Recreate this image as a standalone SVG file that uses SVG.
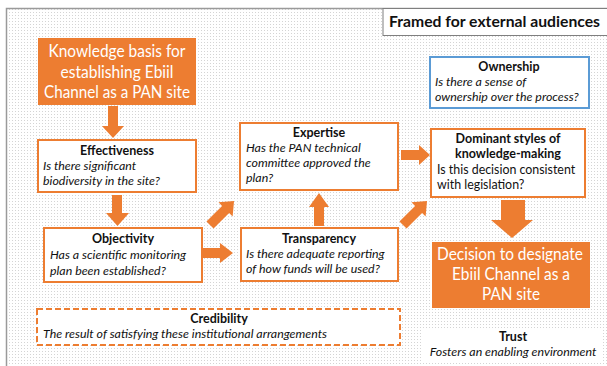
<svg xmlns="http://www.w3.org/2000/svg" width="607" height="366" viewBox="0 0 607 366">
  <defs>
    <pattern id="dots" width="3" height="3" patternUnits="userSpaceOnUse">
      <rect width="3" height="3" fill="#ffffff"/>
      <rect width="1" height="1" fill="#d4d4d4"/>
    </pattern>
  </defs>
  <style>
    text { font-family: Lato, "Liberation Sans", sans-serif; fill: #111; }
    .hd { font-size: 12.5px; font-weight: bold; text-anchor: middle; }
    .q { font-size: 12.4px; font-style: italic; }
    .plain { font-size: 12.4px; }
    .big { font-size: 16.5px; fill: #ffffff; text-anchor: middle; }
    .box { fill: #ffffff; stroke: #ed7d31; stroke-width: 2; }
    .solid { fill: #ed7d31; }
    .arrow { fill: #ed7d31; }
  </style>

  <!-- page background and frame -->
  <rect x="0" y="0" width="607" height="366" fill="#ffffff"/>
  <rect x="6.5" y="8.5" width="640" height="400" fill="url(#dots)" stroke="#9a9a9a" stroke-width="1.5"/>

  <!-- heading -->
  <g id="heading">
    <rect x="383" y="8.5" width="260" height="27" fill="#ffffff" stroke="#7f7f7f" stroke-width="1"/>
    <text x="389" y="27" textLength="211" lengthAdjust="spacingAndGlyphs" style="font-size:16px;font-weight:bold">Framed for external audiences</text>
  </g>

  <!-- connectors -->
  <g id="connectors">
    <!-- knowledge basis -> effectiveness -->
    <polygon class="arrow" points="108,106 118,106 118,126 124,126 113,138 102,126 108,126"/>
    <!-- effectiveness -> objectivity -->
    <polygon class="arrow" points="112,195 122,195 122,213 129,213 117.5,226 106,213 112,213"/>
    <!-- objectivity -> transparency -->
    <polygon class="arrow" points="203,248 220,248 220,243 233,253 220,263 220,258 203,258"/>
    <!-- objectivity -> expertise -->
    <polygon class="arrow" points="0,-5 22,-5 22,-10 34,0 22,10 22,5 0,5" transform="translate(210,225) rotate(-45)"/>
    <!-- transparency -> expertise -->
    <polygon class="arrow" points="314,226 314,207 309,207 319,193 329,207 324,207 324,226"/>
    <!-- expertise -> dominant styles -->
    <polygon class="arrow" points="401,150 419,150 419,145 430,155 419,165 419,160 401,160"/>
    <!-- transparency -> dominant styles -->
    <polygon class="arrow" points="0,-5 22,-5 22,-10 34,0 22,10 22,5 0,5" transform="translate(403,225) rotate(-45)"/>
    <!-- dominant styles -> decision -->
    <polygon class="arrow" points="501,200 525,200 525,220 533,220 512,238 491,220 501,220"/>
  </g>

  <g id="knowledge">
    <rect class="solid" x="38" y="38" width="158" height="67"/>
    <text class="big" x="117" y="57" textLength="137" lengthAdjust="spacingAndGlyphs">Knowledge basis for</text>
    <text class="big" x="117" y="77.5" textLength="113" lengthAdjust="spacingAndGlyphs">establishing Ebiil</text>
    <text class="big" x="117" y="98" textLength="146" lengthAdjust="spacingAndGlyphs">Channel as a PAN site</text>
  </g>

  <g id="effectiveness">
    <rect class="box" x="38" y="140" width="158" height="52"/>
    <text class="hd" x="117" y="155">Effectiveness</text>
    <text class="q" x="43" y="169.5">Is there significant</text>
    <text class="q" x="43" y="185">biodiversity in the site?</text>
  </g>

  <g id="objectivity">
    <rect class="box" x="44" y="228" width="158" height="54"/>
    <text class="hd" x="123" y="243">Objectivity</text>
    <text class="q" x="50" y="258.5">Has a scientific monitoring</text>
    <text class="q" x="50" y="274.5">plan been established?</text>
  </g>

  <g id="expertise">
    <rect class="box" x="240" y="123" width="158" height="67"/>
    <text class="hd" x="319" y="137">Expertise</text>
    <text class="q" x="246" y="152">Has the PAN technical</text>
    <text class="q" x="246" y="167">committee approved the</text>
    <text class="q" x="246" y="182">plan?</text>
  </g>

  <g id="transparency">
    <rect class="box" x="241" y="228" width="157" height="53"/>
    <text class="hd" x="319" y="243">Transparency</text>
    <text class="q" x="246" y="258">Is there adequate reporting</text>
    <text class="q" x="246" y="273">of how funds will be used?</text>
  </g>

  <g id="ownership">
    <rect x="430" y="57" width="159" height="51" fill="#ffffff" stroke="#5b9bd5" stroke-width="2"/>
    <text class="hd" x="509" y="71">Ownership</text>
    <text class="q" x="435" y="86">Is there a sense of</text>
    <text class="q" x="435" y="101">ownership over the process?</text>
  </g>

  <g id="dominant-styles">
    <rect class="box" x="431" y="129" width="154" height="68"/>
    <text class="hd" x="508" y="143">Dominant styles of</text>
    <text class="hd" x="508" y="158">knowledge-making</text>
    <text class="plain" x="437" y="174">Is this decision consistent</text>
    <text class="plain" x="437" y="188.5">with legislation?</text>
  </g>

  <g id="decision">
    <rect class="solid" x="432" y="242" width="158" height="66"/>
    <text class="big" x="510" y="260" textLength="146" lengthAdjust="spacingAndGlyphs">Decision to designate</text>
    <text class="big" x="511" y="280" textLength="118" lengthAdjust="spacingAndGlyphs">Ebiil Channel as a</text>
    <text class="big" x="511" y="300" textLength="58" lengthAdjust="spacingAndGlyphs">PAN site</text>
  </g>

  <g id="credibility">
    <rect x="37" y="309" width="363" height="36" fill="#ffffff" stroke="#ed7d31" stroke-width="2" stroke-dasharray="6 3"/>
    <text class="hd" x="219" y="323">Credibility</text>
    <text class="q" x="43" y="338">The result of satisfying these institutional arrangements</text>
  </g>

  <g id="trust">
    <rect x="421" y="328" width="180" height="33" fill="#ffffff"/>
    <text class="hd" x="513" y="341">Trust</text>
    <text class="q" x="513" y="356" text-anchor="middle">Fosters an enabling environment</text>
  </g>
</svg>
